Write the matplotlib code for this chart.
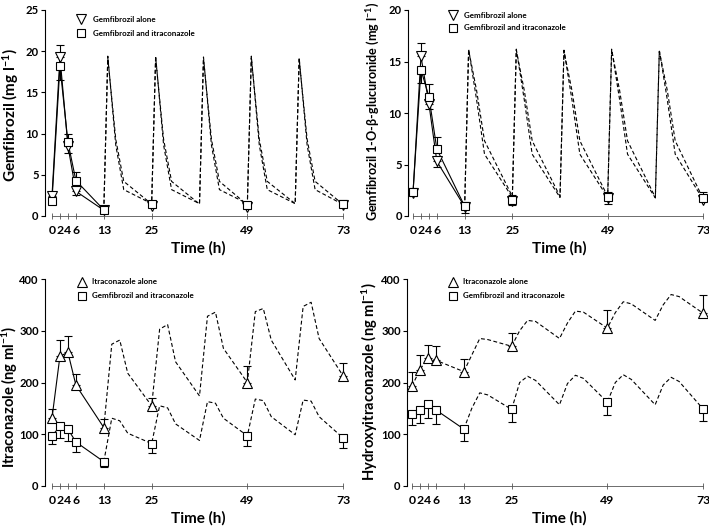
import matplotlib
matplotlib.use('Agg')
import matplotlib.pyplot as plt
from matplotlib.lines import Line2D

plt.rcParams['font.family'] = ['Lato', 'DejaVu Sans']
plt.rcParams['font.weight'] = 'bold'
plt.rcParams['mathtext.fontset'] = 'custom'
plt.rcParams['mathtext.rm'] = 'Lato:bold'
plt.rcParams['mathtext.bf'] = 'Lato:bold'
plt.rcParams['mathtext.default'] = 'rm'

# ---------------- data ----------------
t_obs = [0, 2, 4, 6, 13, 25, 49, 73]
xtick_vals = [0, 2, 4, 6, 13, 25, 49, 73]

# Panel A: gemfibrozil (mg/l)
gem_alone = [2.4, 19.3, 8.5, 3.0, 0.7, 1.2, 1.1, 1.3]
gem_alone_up = [0.55, 1.5, 1.5, 0, 0, 0, 0, 0]
gem_alone_dn = [0, 0, 0, 0.4, 0, 0, 0, 0]
gem_itra = [1.85, 18.2, 8.95, 4.3, 0.75, 1.45, 1.3, 1.4]
gem_itra_up = [0, 0, 0, 1.1, 0, 0, 0, 0]
gem_itra_dn = [0, 1.7, 1.25, 0, 0, 0, 0, 0]
t_sim_gem = [13, 14, 16, 18, 25, 26, 28, 30, 37, 38, 40, 42, 49, 50, 52, 54, 61, 62, 64, 66, 73]
gem_alone_sim = [0.7, 19.4, 8.6, 3.2, 1.5, 19.4, 8.6, 3.2, 1.5, 19.3, 8.6, 3.2, 1.5,
                 19.4, 8.6, 3.2, 1.5, 19.2, 8.6, 3.2, 1.4]
gem_itra_sim = [0.75, 19.2, 9.3, 4.2, 1.45, 19.2, 9.3, 4.2, 1.45, 19.1, 9.3, 4.2, 1.35,
                19.2, 9.3, 4.2, 1.5, 19.0, 9.3, 4.2, 1.4]

# Panel B: gemfibrozil 1-O-beta-glucuronide (mg/l)
glu_alone = [2.2, 15.5, 10.9, 5.3, 0.9, 1.5, 1.7, 1.6]
glu_alone_up = [0, 1.3, 0, 0, 0, 0, 0, 0]
glu_alone_dn = [0.3, 0, 0.5, 0.5, 0.6, 0.4, 0.55, 0]
glu_itra = [2.3, 14.2, 11.6, 6.5, 0.95, 1.6, 1.85, 1.7]
glu_itra_up = [0, 0, 1.2, 1.2, 0, 0.4, 0.5, 0.6]
glu_itra_dn = [0, 1.3, 0, 0, 0, 0, 0, 0]
t_sim_glu = [13, 14, 16, 18, 25, 26, 28, 30, 37, 38, 40, 42, 49, 50, 52, 54, 61, 62, 64, 66, 73]
glu_alone_sim = [0.9, 16.2, 11.3, 6.0, 1.8, 16.2, 11.3, 6.0, 1.8, 16.1, 11.3, 6.0, 1.8,
                 16.2, 11.3, 6.0, 1.75, 16.1, 11.3, 6.0, 1.6]
glu_itra_sim = [0.95, 16.1, 12.2, 7.3, 1.9, 16.1, 12.2, 7.3, 1.9, 16.0, 12.2, 7.3, 1.9,
                16.1, 12.2, 7.3, 1.8, 16.0, 12.2, 7.3, 1.7]

# Panel C: itraconazole (ng/ml)
itr_alone = [131, 251, 258, 195, 113, 155, 200, 213]
itr_alone_up = [17, 32, 31, 21, 16, 16, 31, 25]
itr_alone_dn = [0, 0, 0, 0, 0, 0, 0, 0]
itr_itra = [97, 115, 110, 85, 47, 82, 97, 93]
itr_itra_up = [0, 0, 0, 0, 0, 0, 0, 0]
itr_itra_dn = [15, 23, 23, 19, 11, 18, 19, 20]
t_sim_itr = [13, 15, 17, 19, 25, 27, 29, 31, 37, 39, 41, 43, 49, 51, 53, 55, 61, 63, 65, 67, 73]
itr_alone_sim = [113, 274, 282, 218, 155, 303, 312, 240, 174, 328, 336, 266, 200,
                 337, 343, 282, 205, 347, 355, 285, 213]
itr_itra_sim = [47, 131, 126, 102, 82, 155, 151, 120, 88, 163, 160, 131, 97,
                168, 165, 134, 99, 166, 164, 134, 93]

# Panel D: hydroxyitraconazole (ng/ml)
hyd_alone = [193, 225, 247, 243, 221, 270, 305, 334]
hyd_alone_up = [28, 29, 25, 27, 24, 25, 35, 35]
hyd_alone_dn = [0, 0, 0, 0, 0, 0, 0, 0]
hyd_itra = [139, 146, 158, 147, 110, 148, 162, 149]
hyd_itra_up = [0, 0, 0, 0, 0, 0, 0, 0]
hyd_itra_dn = [21, 25, 27, 27, 23, 25, 25, 23]
t_sim_hyd = [13, 15, 17, 19, 25, 27, 29, 31, 37, 39, 41, 43, 49, 51, 53, 55, 61, 63, 65, 67, 73]
hyd_alone_sim = [221, 253, 285, 283, 270, 300, 320, 318, 285, 315, 338, 336, 305,
                 335, 356, 352, 320, 350, 370, 366, 334]
hyd_itra_sim = [110, 150, 180, 176, 148, 200, 212, 204, 157, 198, 214, 208, 162,
                200, 215, 206, 157, 195, 210, 202, 149]

# ---------------- layout ----------------
W, H = 709, 526
fig = plt.figure(figsize=(W / 100, H / 100), dpi=100)


def add_ax(l, r, t, b):
    return fig.add_axes([l / W, 1 - b / H, (r - l) / W, (b - t) / H])


def fx(x):
    return x / W


def fy(y):
    return 1 - y / H


def panel(ax, xlim, ymax, yticks, ylabel, ylab_px, xlab_px, series, legend, leg_px,
          ylab_size=11):
    ax.set_xlim(*xlim)
    ax.set_ylim(0, ymax)
    for s in ['top', 'right']:
        ax.spines[s].set_visible(False)
    ax.spines['left'].set_bounds(0, ymax)
    ax.spines['bottom'].set_bounds(0, 73)
    ax.spines['left'].set_linewidth(0.8)
    ax.spines['bottom'].set_linewidth(0.6)
    ax.spines['bottom'].set_color('#555555')
    ax.set_xticks(xtick_vals)
    ax.set_xticklabels([str(v) for v in xtick_vals])
    ax.set_yticks(yticks)
    ax.tick_params(axis='x', direction='inout', length=5, width=0.6, pad=4,
                   labelsize=8.8, color='#555555')
    ax.tick_params(axis='y', direction='out', length=3, width=0.8, pad=1.5, labelsize=8.1)
    for lab in ax.get_xticklabels() + ax.get_yticklabels():
        lab.set_fontweight('bold')
    ax.set_ylabel(ylabel, fontsize=ylab_size, fontweight='bold', va='center')
    ax.set_xlabel('Time (h)', fontsize=11, fontweight='bold', va='center')
    bb = ax.get_position()
    ax.yaxis.set_label_coords((fx(ylab_px[0]) - bb.x0) / bb.width,
                              (fy(ylab_px[1]) - bb.y0) / bb.height)
    ax.xaxis.set_label_coords((fx(xlab_px[0]) - bb.x0) / bb.width,
                              (fy(xlab_px[1]) - bb.y0) / bb.height)

    for (y, up, dn, marker, ms, obs_ls, n_solid, ts, ys) in series:
        # simulated dashed profile
        ax.plot(ts, ys, ls=(0, (3.5, 2.2)), color='black', lw=0.8, zorder=2)
        # observed connecting line
        ax.plot(t_obs[:n_solid], y[:n_solid], ls=obs_ls, color='black', lw=0.8, zorder=2)
        # one-sided error bars
        ax.errorbar(t_obs, y, yerr=[list(dn), list(up)], fmt='none', ecolor='black',
                    elinewidth=0.8, capsize=3.2, capthick=0.8, zorder=3)
        ax.plot(t_obs, y, ls='none', marker=marker, ms=ms, mfc='white',
                mec='black', mew=0.8, zorder=4)

    for i, (marker, ms, text) in enumerate(legend):
        xm, ym = leg_px[0], leg_px[1] + i * leg_px[3]
        fig.add_artist(Line2D([fx(xm)], [fy(ym)], transform=fig.transFigure,
                              marker=marker, ms=ms, mfc='white', mec='black', mew=0.8,
                              ls='none'))
        fig.text(fx(leg_px[2]), fy(ym), text, fontsize=5.8, fontweight='bold',
                 va='center', ha='left')


# Panel A
axA = add_ax(45, 351, 10, 216)
panel(axA, (-1.75, 75), 25, [0, 5, 10, 15, 20, 25], 'Gemfibrozil (mg l$^{-1}$)',
      (10.5, 115), (198, 248),
      [(gem_alone, gem_alone_up, gem_alone_dn, 'v', 6.5, '-', 5, t_sim_gem, gem_alone_sim),
       (gem_itra, gem_itra_up, gem_itra_dn, 's', 5.6, '-', 5, t_sim_gem, gem_itra_sim)],
      [('v', 6.5, 'Gemfibrozil alone'), ('s', 5.6, 'Gemfibrozil and itraconazole')],
      (81, 19, 93, 14))

# Panel B
axB = add_ax(408, 707, 10, 216)
panel(axB, (-1.26, 74), 20, [0, 5, 10, 15, 20], 'Gemfibrozil 1-O-β-glucuronide (mg l$^{-1}$)',
      (373, 111), (559, 248),
      [(glu_alone, glu_alone_up, glu_alone_dn, 'v', 6.5, '-', 5, t_sim_glu, glu_alone_sim),
       (glu_itra, glu_itra_up, glu_itra_dn, 's', 5.6, '-', 5, t_sim_glu, glu_itra_sim)],
      [('v', 6.5, 'Gemfibrozil alone'), ('s', 5.6, 'Gemfibrozil and itraconazole')],
      (453, 15, 464, 13), ylab_size=9.1)

# Panel C
axC = add_ax(45, 351, 279, 486)
panel(axC, (-1.75, 75), 400, [0, 100, 200, 300, 400], 'Itraconazole (ng ml$^{-1}$)',
      (10, 397), (198, 518),
      [(itr_alone, itr_alone_up, itr_alone_dn, '^', 6.5, '-', 5, t_sim_itr, itr_alone_sim),
       (itr_itra, itr_itra_up, itr_itra_dn, 's', 5.6, '-', 5, t_sim_itr, itr_itra_sim)],
      [('^', 6.5, 'Itraconazole alone'), ('s', 5.6, 'Gemfibrozil and itraconazole')],
      (82, 282, 92, 14), ylab_size=10.6)

# Panel D
axD = add_ax(407, 707, 279, 486)
panel(axD, (-1.25, 74), 400, [0, 100, 200, 300, 400], 'Hydroxyitraconazole (ng ml$^{-1}$)',
      (370, 382), (559, 518),
      [(hyd_alone, hyd_alone_up, hyd_alone_dn, '^', 6.5, (0, (3.5, 2.2)), 5, t_sim_hyd, hyd_alone_sim),
       (hyd_itra, hyd_itra_up, hyd_itra_dn, 's', 5.6, '-', 5, t_sim_hyd, hyd_itra_sim)],
      [('^', 6.5, 'Itraconazole alone'), ('s', 5.6, 'Gemfibrozil and itraconazole')],
      (453, 282, 463, 14), ylab_size=10.6)

fig.savefig('out.png', dpi=100)
